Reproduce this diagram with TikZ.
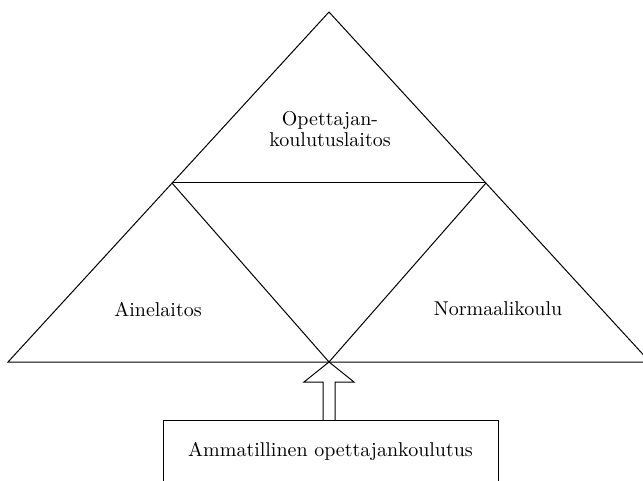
\documentclass[tikz,border=0pt]{standalone}
\begin{document}
\begin{tikzpicture}[x=0.5pt, y=-0.5pt, line width=0.5pt, font=\normalsize]

\clip (0,0) rectangle (643,481);

\coordinate (t0) at (329,12);
\coordinate (t1) at (8,362);
\coordinate (t2) at (650,362);
\coordinate (m1) at (172,183);
\coordinate (m2) at (486,183);
\coordinate (b0) at (329,362);

\node[align=center, font=\fontsize{10}{10.5}\selectfont] (a0) at (330,129) {Opettajan-\\koulutuslaitos};
\node (a1) at (158,309) {Ainelaitos};
\node (a2) at (498,309) {Normaalikoulu};
\node[draw, minimum width=167.5pt, minimum height=31pt] (a3) at (330.5,451) {Ammatillinen opettajankoulutus};

\draw (t1)--(t0)--(t2)--cycle;
\draw (m1)--(m2);
\draw (m1)--(b0)--(m2);

% nuoli laatikosta kolmioon
\draw (b0)--++(-25,20)--++(19,0)--++(0,38);
\draw (b0)--++(25,20)--++(-19,0)--++(0,38);
\end{tikzpicture}
\end{document}
